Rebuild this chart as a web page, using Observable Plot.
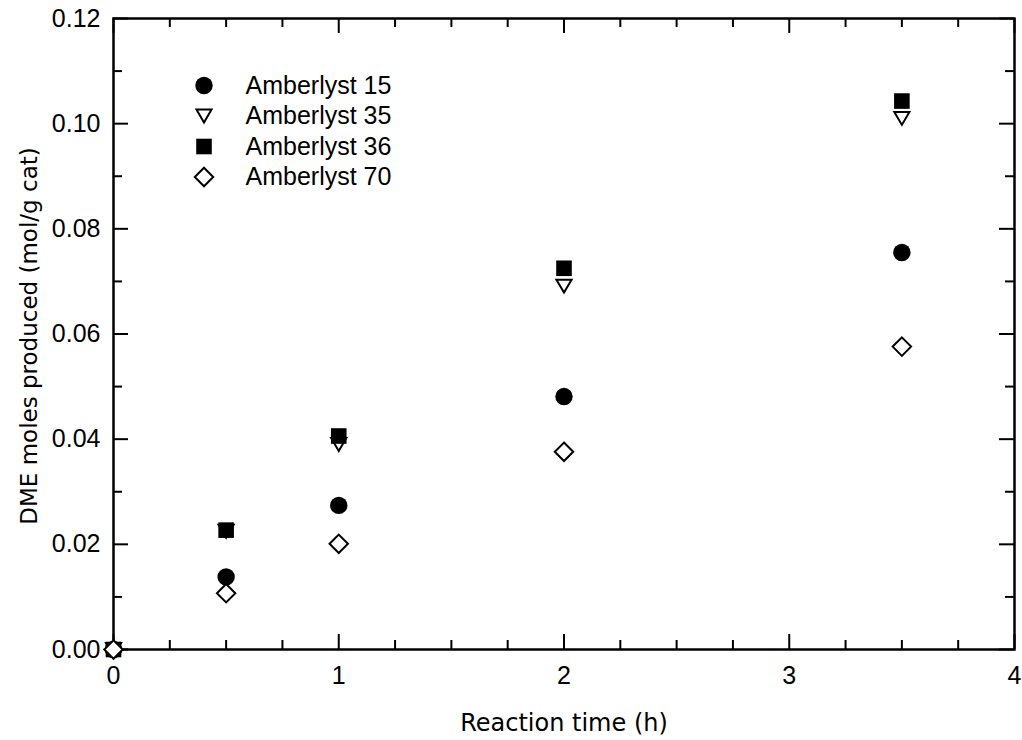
<!DOCTYPE html>
<html><head><meta charset="utf-8">
<script src="https://cdn.jsdelivr.net/npm/d3@7"></script>
<script src="https://cdn.jsdelivr.net/npm/@observablehq/plot@0.6"></script>
<style>html,body{margin:0;padding:0;background:#fff}</style>
</head><body><div id="chart"></div>
<script>
// ---- data ----
const times = [0, 0.5, 1, 2, 3.5];
const a15 = [0, 0.0138, 0.0274, 0.0481, 0.0755];
const a35 = [0, 0.0225, 0.0390, 0.0691, 0.1010];
const a36 = [0, 0.0227, 0.0406, 0.0725, 0.1043];
const a70 = [0, 0.0107, 0.0201, 0.0376, 0.0576];
const seriesNames = ["Amberlyst 15", "Amberlyst 35", "Amberlyst 36", "Amberlyst 70"];
const xMajor = [0, 1, 2, 3, 4];
const xMinor = [0.25, 0.5, 0.75, 1.25, 1.5, 1.75, 2.25, 2.5, 2.75, 3.25, 3.5, 3.75];
const yMajor = [0, 0.02, 0.04, 0.06, 0.08, 0.10, 0.12];
const yMinor = [0.01, 0.03, 0.05, 0.07, 0.09, 0.11];
const xLabel = "Reaction time (h)";
const yLabel = "DME moles produced (mol/g cat)";

// ---- layout / style ----
const W = 1022, H = 740;
const mL = 113, mR = 8, mT = 18, mB = 91;
const innerW = W - mL - mR, innerH = H - mT - mB;
const majorLen = 15, minorLen = 9;
const arial = "'Liberation Sans', Arial, sans-serif";
const tahoma = "'DejaVu Sans', Verdana, sans-serif";

const triangleDown = {
  draw(ctx, size) {
    const s = Math.sqrt(size);
    const w = 0.49 * s, h = 0.42 * s;
    ctx.moveTo(-w, -h); ctx.lineTo(w, -h); ctx.lineTo(0, h); ctx.closePath();
  }
};

const seriesValues = [a15, a35, a36, a70];
const seriesStyle = [
  {symbol: "circle", fill: "black", stroke: "none", r: 8.7},
  {symbol: triangleDown, fill: "white", stroke: "black", r: 8.7},
  {symbol: "square", fill: "black", stroke: "none", r: 8.8},
  {symbol: "diamond2", fill: "white", stroke: "black", r: 8.3}
];

const tickStyle = {stroke: "black", strokeWidth: 2};
const marks = [];

// ticks on all four sides, pointing inward
marks.push(Plot.tickY(yMajor, {y: d => d, insetRight: innerW - majorLen, ...tickStyle}));
marks.push(Plot.tickY(yMinor, {y: d => d, insetRight: innerW - minorLen, ...tickStyle}));
marks.push(Plot.tickY(yMajor, {y: d => d, insetLeft: innerW - majorLen, ...tickStyle}));
marks.push(Plot.tickY(yMinor, {y: d => d, insetLeft: innerW - minorLen, ...tickStyle}));
marks.push(Plot.tickX(xMajor, {x: d => d, insetTop: innerH - majorLen, ...tickStyle}));
marks.push(Plot.tickX(xMinor, {x: d => d, insetTop: innerH - minorLen, ...tickStyle}));
marks.push(Plot.tickX(xMajor, {x: d => d, insetBottom: innerH - majorLen, ...tickStyle}));
marks.push(Plot.tickX(xMinor, {x: d => d, insetBottom: innerH - minorLen, ...tickStyle}));

marks.push(Plot.frame({stroke: "black", strokeWidth: 2.5}));

// tick labels
marks.push(Plot.axisY(yMajor, {tickSize: 0, tickPadding: 13, tickFormat: d3.format(".2f"), fontSize: 25, fontFamily: arial, label: null}));
marks.push(Plot.axisX(xMajor, {tickSize: 0, tickPadding: 17, tickFormat: d => String(d), fontSize: 25, fontFamily: arial, label: null}));

// axis titles
marks.push(Plot.text([xLabel], {text: d => d, frameAnchor: "bottom", textAnchor: "middle", lineAnchor: "middle", dy: 74, fontSize: 24, fontFamily: tahoma, fill: "black"}));
marks.push(Plot.text([yLabel], {text: d => d, frameAnchor: "left", textAnchor: "middle", lineAnchor: "middle", rotate: -90, dx: -84, dy: 2, fontSize: 23, fontFamily: tahoma, fill: "black"}));

// data points
seriesValues.forEach((vals, k) => {
  const st = seriesStyle[k];
  const rows = times.map((t, i) => ({t, v: vals[i]}));
  marks.push(Plot.dot(rows, {x: "t", y: "v", symbol: st.symbol, r: st.r, fill: st.fill, stroke: st.stroke, strokeWidth: 2}));
});

// legend inside the frame
seriesNames.forEach((name, k) => {
  const st = seriesStyle[k];
  const dy = 67 + 30.5 * k;
  marks.push(Plot.dot([name], {frameAnchor: "top-left", dx: 90.5, dy, symbol: st.symbol, r: st.r, fill: st.fill, stroke: st.stroke, strokeWidth: 2}));
  marks.push(Plot.text([name], {text: d => d, frameAnchor: "top-left", textAnchor: "start", lineAnchor: "middle", dx: 132, dy, fontSize: 25, fontFamily: arial, fill: "black"}));
});

const chart = Plot.plot({
  width: W, height: H,
  marginLeft: mL, marginRight: mR, marginTop: mT, marginBottom: mB,
  x: {domain: [0, 4]},
  y: {domain: [0, 0.12]},
  style: {background: "white", color: "black", fontFamily: arial, overflow: "visible"},
  marks
});
document.getElementById("chart").appendChild(chart);
</script>
</body></html>
